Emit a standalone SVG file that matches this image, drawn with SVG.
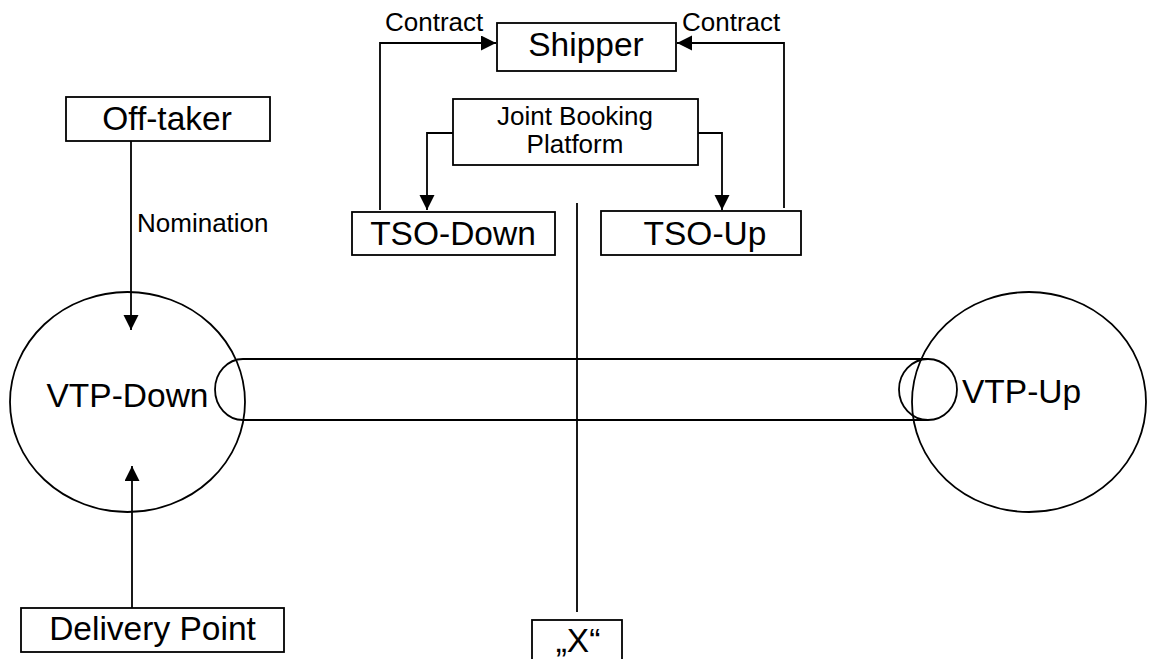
<svg xmlns="http://www.w3.org/2000/svg" width="1154" height="659" viewBox="0 0 1154 659">
<style>
.box{fill:#fff;stroke:#000;stroke-width:1.8}
.shape{fill:none;stroke:#000;stroke-width:1.8}
.ln{fill:none;stroke:#000;stroke-width:1.8}
.big{font-family:"Liberation Sans",Arial,sans-serif;font-size:33.5px;fill:#000}
.sm{font-family:"Liberation Sans",Arial,sans-serif;font-size:26px;fill:#000}
</style>
<defs>
<marker id="ah" markerUnits="userSpaceOnUse" markerWidth="16" markerHeight="16" refX="15" refY="7.5" orient="auto">
<path d="M0,0 L15,7.5 L0,15 z" fill="#000"/>
</marker>
</defs>
<rect width="1154" height="659" fill="#fff"/>
<g id="pipe">
<path class="shape" d="M243,359 L928,359 M243,420 L928,420 M243,359 A28,30.5 0 0 0 243,420"/>
<ellipse class="shape" cx="928" cy="389.5" rx="29" ry="30.5"/>
</g>
<g id="vtp-down">
<ellipse class="shape" cx="127.5" cy="402" rx="117.5" ry="110"/>
<text class="big" x="127.5" y="407" text-anchor="middle">VTP-Down</text>
</g>
<g id="vtp-up">
<ellipse class="shape" cx="1029" cy="402" rx="117" ry="110"/>
<text class="big" x="962" y="403">VTP-Up</text>
</g>
<g id="shipper">
<rect class="box" x="497" y="23" width="179" height="48"/>
<text class="big" x="586" y="56" text-anchor="middle">Shipper</text>
</g>
<g id="jbp">
<rect class="box" x="453" y="99" width="245" height="66"/>
<text class="sm" x="575" y="125" text-anchor="middle">Joint Booking</text>
<text class="sm" x="575" y="153" text-anchor="middle">Platform</text>
</g>
<g id="tso-down">
<rect class="box" x="352" y="212" width="203" height="43"/>
<text class="big" x="453" y="245" text-anchor="middle">TSO-Down</text>
</g>
<g id="tso-up">
<rect class="box" x="601" y="211" width="200" height="44"/>
<text class="big" x="705" y="245" text-anchor="middle">TSO-Up</text>
</g>
<g id="off-taker">
<rect class="box" x="66" y="97" width="204" height="44"/>
<text class="big" x="167" y="130" text-anchor="middle">Off-taker</text>
</g>
<g id="delivery-point">
<rect class="box" x="21" y="608" width="263" height="44"/>
<text class="big" x="152.5" y="640" text-anchor="middle">Delivery Point</text>
</g>
<g id="x">
<rect class="box" x="532" y="620" width="90" height="45"/>
<text class="big" x="578" y="652" text-anchor="middle">„X“</text>
</g>
<g id="connectors">
<path class="ln" d="M380,210 L380,43 L496,43" marker-end="url(#ah)"/>
<path class="ln" d="M784,208 L784,43 L677,43" marker-end="url(#ah)"/>
<path class="ln" d="M453,133 L427,133 L427,210" marker-end="url(#ah)"/>
<path class="ln" d="M698,133 L722,133 L722,210" marker-end="url(#ah)"/>
<path class="ln" d="M131,141 L131,330" marker-end="url(#ah)"/>
<path class="ln" d="M132,608 L132,466" marker-end="url(#ah)"/>
<path class="ln" d="M577,203 L577,612"/>
<text class="sm" x="385" y="31">Contract</text>
<text class="sm" x="682" y="31">Contract</text>
<text class="sm" x="137" y="232">Nomination</text>
</g>
</svg>
